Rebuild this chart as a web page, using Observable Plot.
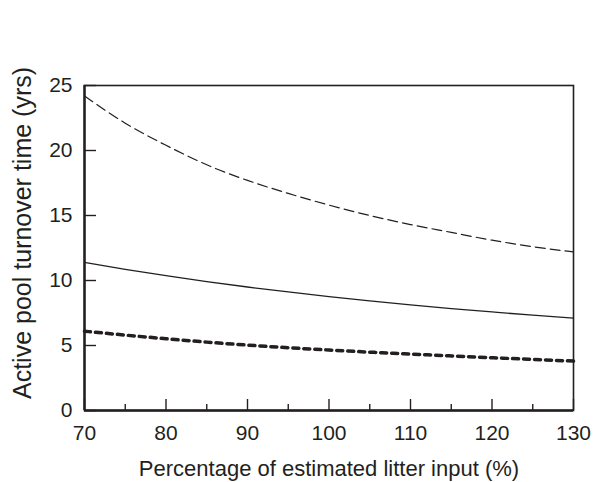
<!DOCTYPE html>
<html>
<head>
<meta charset="utf-8">
<script src="https://cdn.jsdelivr.net/npm/d3@7"></script>
<script src="https://cdn.jsdelivr.net/npm/@observablehq/plot@0.6"></script>
<style>
  html, body { margin: 0; padding: 0; background: #fff; }
  #chart { width: 594px; height: 482px; }
  #chart svg { font-family: 'Liberation Sans', Arial, sans-serif !important; }
  #chart svg [aria-label="x-axis tick label"] text,
  #chart svg [aria-label="y-axis tick label"] text { font-size: 21px; }
  #chart svg [aria-label="x-axis label"] text { font-size: 22px; }
</style>
</head>
<body>
<div id="chart"></div>
<script>
const litterInput = [70, 75, 80, 85, 90, 95, 100, 105, 110, 115, 120, 125, 130];
const dashedSeries = [24.2, 22.1, 20.4, 18.9, 17.7, 16.7, 15.8, 15.0, 14.3, 13.7, 13.1, 12.6, 12.2];
const solidSeries  = [11.4, 10.86, 10.37, 9.92, 9.5, 9.12, 8.76, 8.43, 8.12, 7.84, 7.58, 7.33, 7.1];
const dottedSeries = [6.1, 5.8, 5.52, 5.26, 5.03, 4.83, 4.65, 4.49, 4.34, 4.2, 4.06, 3.93, 3.8];
const xMajorTicks = [70, 80, 90, 100, 110, 120, 130];
const xMinorTicks = [75, 85, 95, 105, 115, 125];
const yTicks = [0, 5, 10, 15, 20, 25];
const xTitle = "Percentage of estimated litter input (%)";
const yTitle = "Active pool turnover time (yrs)";

const ink = "#231f20";
const toRows = (vals) => litterInput.map((x, i) => ({x, y: vals[i]}));

const chart = Plot.plot({
  width: 594,
  height: 482,
  marginLeft: 84,
  marginRight: 21,
  marginTop: 85,
  marginBottom: 72,
  style: {fontFamily: "'Liberation Sans', Arial, sans-serif", fontSize: "21px", color: ink, background: "#fff"},
  x: {domain: [70, 130]},
  y: {domain: [0, 25]},
  marks: [
    Plot.frame({stroke: ink, strokeWidth: 1.6}),
    Plot.ruleX([70], {stroke: ink, strokeWidth: 2.4}),
    Plot.ruleY([0], {stroke: ink, strokeWidth: 2.4}),
    // inward ticks
    Plot.axisX({ticks: xMajorTicks, tickSize: -11, text: null, stroke: ink, strokeWidth: 1.4, label: null}),
    Plot.axisX({ticks: xMinorTicks, tickSize: -6, text: null, stroke: ink, strokeWidth: 1.4, label: null}),
    Plot.axisY({ticks: yTicks, tickSize: -12, text: null, stroke: ink, strokeWidth: 1.4, label: null}),
    // tick labels
    Plot.axisX({ticks: xMajorTicks, tickSize: 0, tickPadding: 15, fill: ink, fontSize: 21,
      label: xTitle, labelAnchor: "center", labelArrow: "none", labelOffset: 65}),
    Plot.axisY({ticks: yTicks, tickSize: 0, tickPadding: 12, fill: ink, fontSize: 21, label: null}),
    // y title
    Plot.text([yTitle], {text: d => d, frameAnchor: "left", rotate: -90, dx: -62, dy: -15,
      lineAnchor: "middle", textAnchor: "middle", fontSize: 25, fill: ink}),
    // series
    Plot.line(toRows(dashedSeries), {x: "x", y: "y", stroke: ink, strokeWidth: 1.2, strokeDasharray: "10,5", curve: "monotone-x"}),
    Plot.line(toRows(solidSeries), {x: "x", y: "y", stroke: ink, strokeWidth: 1.3, curve: "monotone-x"}),
    Plot.line(toRows(dottedSeries), {x: "x", y: "y", stroke: ink, strokeWidth: 3.5, strokeDasharray: "6,5", curve: "monotone-x"})
  ]
});
document.getElementById("chart").appendChild(chart);
</script>
</body>
</html>
